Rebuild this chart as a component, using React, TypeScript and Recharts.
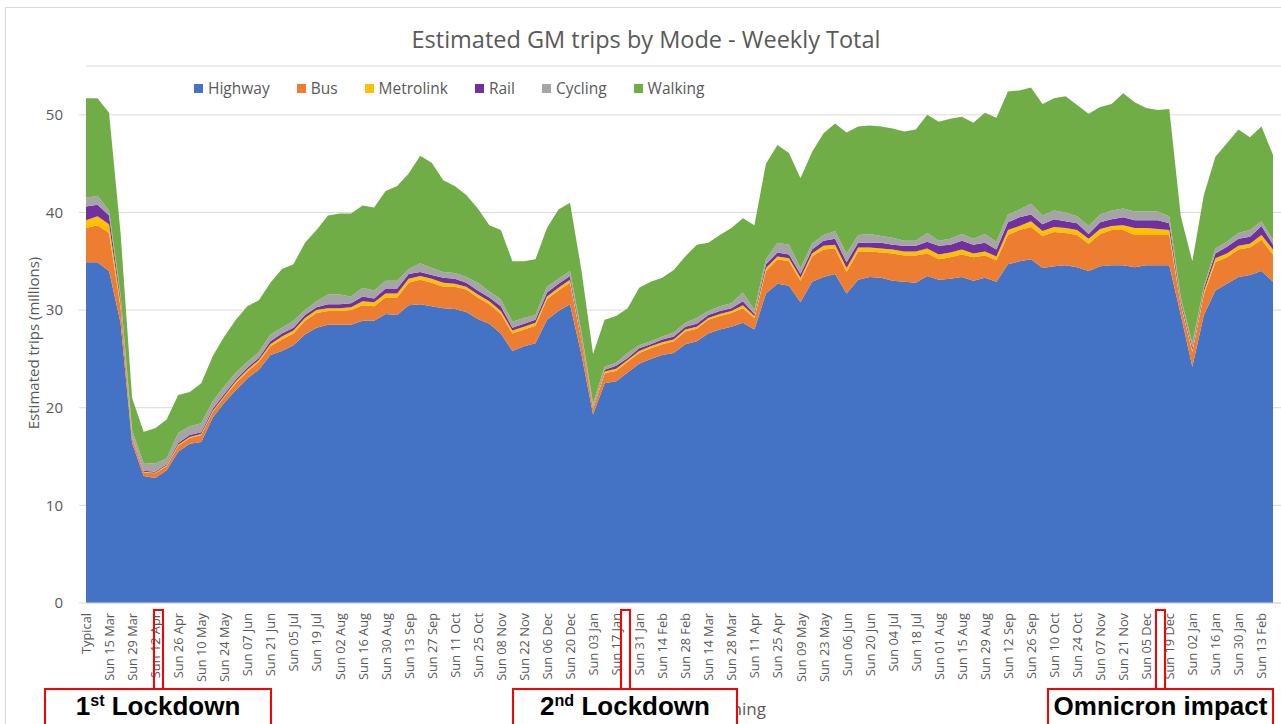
import { AreaChart, Area, XAxis, YAxis, CartesianGrid } from "recharts";

// weekly categories (labels shown on every other week)
const weeks = [
  "Typical", "Sun 08 Mar", "Sun 15 Mar", "Sun 22 Mar", "Sun 29 Mar", "Sun 05 Apr", "Sun 12 Apr", "Sun 19 Apr",
  "Sun 26 Apr", "Sun 03 May", "Sun 10 May", "Sun 17 May", "Sun 24 May", "Sun 31 May", "Sun 07 Jun", "Sun 14 Jun",
  "Sun 21 Jun", "Sun 28 Jun", "Sun 05 Jul", "Sun 12 Jul", "Sun 19 Jul", "Sun 26 Jul", "Sun 02 Aug", "Sun 09 Aug",
  "Sun 16 Aug", "Sun 23 Aug", "Sun 30 Aug", "Sun 06 Sep", "Sun 13 Sep", "Sun 20 Sep", "Sun 27 Sep", "Sun 04 Oct",
  "Sun 11 Oct", "Sun 18 Oct", "Sun 25 Oct", "Sun 01 Nov", "Sun 08 Nov", "Sun 15 Nov", "Sun 22 Nov", "Sun 29 Nov",
  "Sun 06 Dec", "Sun 13 Dec", "Sun 20 Dec", "Sun 27 Dec", "Sun 03 Jan", "Sun 10 Jan", "Sun 17 Jan", "Sun 24 Jan",
  "Sun 31 Jan", "Sun 07 Feb", "Sun 14 Feb", "Sun 21 Feb", "Sun 28 Feb", "Sun 07 Mar", "Sun 14 Mar", "Sun 21 Mar",
  "Sun 28 Mar", "Sun 04 Apr", "Sun 11 Apr", "Sun 18 Apr", "Sun 25 Apr", "Sun 02 May", "Sun 09 May", "Sun 16 May",
  "Sun 23 May", "Sun 30 May", "Sun 06 Jun", "Sun 13 Jun", "Sun 20 Jun", "Sun 27 Jun", "Sun 04 Jul", "Sun 11 Jul",
  "Sun 18 Jul", "Sun 25 Jul", "Sun 01 Aug", "Sun 08 Aug", "Sun 15 Aug", "Sun 22 Aug", "Sun 29 Aug", "Sun 05 Sep",
  "Sun 12 Sep", "Sun 19 Sep", "Sun 26 Sep", "Sun 03 Oct", "Sun 10 Oct", "Sun 17 Oct", "Sun 24 Oct", "Sun 31 Oct",
  "Sun 07 Nov", "Sun 14 Nov", "Sun 21 Nov", "Sun 28 Nov", "Sun 05 Dec", "Sun 12 Dec", "Sun 19 Dec", "Sun 26 Dec",
  "Sun 02 Jan", "Sun 09 Jan", "Sun 16 Jan", "Sun 23 Jan", "Sun 30 Jan", "Sun 06 Feb", "Sun 13 Feb", "Sun 20 Feb",
];

// millions of trips per week
const highway = [
  34.9, 34.9, 34.0, 28.7, 16.4, 13.0, 12.8, 13.6, 15.5, 16.3, 16.5, 19.0, 20.5, 21.8, 23.0, 23.9,
  25.4, 25.8, 26.4, 27.5, 28.2, 28.5, 28.5, 28.5, 28.9, 28.9, 29.6, 29.5, 30.5, 30.6, 30.4, 30.2,
  30.1, 29.8, 29.1, 28.6, 27.6, 25.8, 26.3, 26.6, 29.0, 29.9, 30.6, 25.4, 19.3, 22.5, 22.7, 23.6,
  24.5, 25.0, 25.4, 25.6, 26.5, 26.8, 27.6, 28.0, 28.3, 28.7, 28.0, 31.7, 32.7, 32.5, 30.8, 32.9,
  33.4, 33.7, 31.7, 33.1, 33.4, 33.3, 33.0, 32.9, 32.8, 33.5, 33.1, 33.2, 33.4, 33.0, 33.3, 32.9,
  34.7, 35.0, 35.2, 34.3, 34.5, 34.6, 34.4, 34.0, 34.5, 34.6, 34.6, 34.4, 34.6, 34.6, 34.6, 29.5,
  24.2, 29.5, 32.0, 32.7, 33.4, 33.6, 34.0, 32.9,
];
const bus = [
  3.5, 3.8, 3.9, 1.6, 0.5, 0.4, 0.5, 0.4, 0.6, 0.6, 0.7, 0.6, 0.6, 0.7, 0.7, 0.8,
  0.9, 1.2, 1.2, 1.4, 1.5, 1.4, 1.4, 1.5, 1.6, 1.5, 1.7, 1.8, 2.3, 2.5, 2.4, 2.2,
  2.3, 2.3, 2.2, 2.0, 2.0, 1.8, 1.7, 1.8, 2.1, 2.1, 2.2, 1.4, 0.6, 1.0, 1.1, 1.1,
  1.1, 1.1, 1.1, 1.2, 1.3, 1.3, 1.4, 1.4, 1.4, 1.5, 1.2, 2.3, 2.5, 2.5, 2.2, 2.6,
  2.8, 2.6, 2.2, 2.9, 2.6, 2.6, 2.8, 2.7, 2.8, 2.3, 2.1, 2.2, 2.3, 2.4, 2.3, 2.2,
  3.0, 3.2, 3.3, 3.3, 3.5, 3.3, 3.3, 2.8, 3.3, 3.6, 3.6, 3.3, 3.1, 3.1, 3.1, 1.0,
  1.5, 2.1, 2.9, 2.7, 2.8, 2.8, 3.2, 2.8,
];
const metrolink = [
  0.8, 0.9, 0.9, 0.4, 0.1, 0.05, 0.05, 0.1, 0.1, 0.1, 0.1, 0.1, 0.1, 0.2, 0.2, 0.2,
  0.2, 0.3, 0.3, 0.3, 0.3, 0.3, 0.3, 0.3, 0.4, 0.4, 0.4, 0.4, 0.4, 0.4, 0.4, 0.4,
  0.3, 0.3, 0.3, 0.3, 0.3, 0.3, 0.3, 0.3, 0.3, 0.3, 0.3, 0.2, 0.1, 0.2, 0.2, 0.2,
  0.2, 0.2, 0.2, 0.2, 0.2, 0.2, 0.2, 0.2, 0.2, 0.3, 0.2, 0.3, 0.3, 0.3, 0.3, 0.3,
  0.4, 0.4, 0.4, 0.4, 0.4, 0.4, 0.4, 0.4, 0.4, 0.5, 0.5, 0.5, 0.5, 0.4, 0.4, 0.4,
  0.5, 0.4, 0.6, 0.5, 0.5, 0.5, 0.5, 0.5, 0.5, 0.4, 0.5, 0.7, 0.7, 0.6, 0.5, 0.2,
  0.2, 0.3, 0.4, 0.4, 0.4, 0.4, 0.5, 0.5,
];
const rail = [
  1.4, 1.2, 0.9, 0.5, 0.1, 0.1, 0.1, 0.1, 0.2, 0.2, 0.2, 0.2, 0.2, 0.2, 0.2, 0.2,
  0.3, 0.3, 0.3, 0.3, 0.3, 0.4, 0.4, 0.4, 0.5, 0.4, 0.5, 0.5, 0.5, 0.4, 0.4, 0.5,
  0.5, 0.4, 0.4, 0.4, 0.5, 0.3, 0.3, 0.3, 0.4, 0.4, 0.4, 0.3, 0.1, 0.2, 0.3, 0.2,
  0.3, 0.2, 0.3, 0.3, 0.3, 0.3, 0.3, 0.3, 0.3, 0.4, 0.2, 0.4, 0.4, 0.4, 0.4, 0.4,
  0.5, 0.6, 0.6, 0.5, 0.5, 0.6, 0.5, 0.6, 0.6, 0.7, 0.9, 0.8, 0.9, 0.9, 0.9, 0.7,
  0.8, 0.9, 0.7, 0.7, 0.8, 0.7, 0.7, 0.5, 0.7, 0.7, 0.8, 0.8, 0.8, 0.9, 0.7, 0.3,
  0.3, 0.3, 0.5, 0.7, 0.7, 0.7, 0.9, 0.5,
];
const cycling = [
  0.9, 0.9, 0.5, 0.4, 0.6, 0.8, 0.85, 0.6, 1.0, 0.9, 0.9, 0.8, 0.8, 0.7, 0.6, 0.6,
  0.7, 0.6, 0.7, 0.5, 0.6, 1.0, 1.0, 0.7, 0.9, 0.8, 0.8, 0.8, 0.5, 0.9, 0.7, 0.6,
  0.6, 0.6, 0.8, 0.6, 0.7, 0.6, 0.6, 0.5, 0.6, 0.5, 0.5, 0.4, 0.3, 0.3, 0.3, 0.5,
  0.3, 0.3, 0.3, 0.4, 0.4, 0.6, 0.4, 0.5, 0.5, 0.9, 0.4, 0.5, 1.0, 1.0, 0.6, 0.6,
  0.6, 0.8, 0.9, 0.8, 0.9, 0.7, 0.7, 0.5, 0.5, 0.9, 0.5, 0.6, 0.7, 0.6, 0.9, 0.8,
  0.8, 0.8, 1.1, 0.9, 0.9, 0.9, 0.7, 0.8, 0.8, 0.9, 0.9, 0.9, 0.9, 0.9, 0.7, 0.3,
  0.4, 0.2, 0.5, 0.5, 0.6, 0.7, 0.5, 0.5,
];
const walking = [
  10.2, 10.0, 10.0, 6.3, 3.3, 3.2, 3.6, 4.0, 3.9, 3.5, 4.1, 4.6, 5.1, 5.4, 5.7, 5.3,
  5.3, 6.0, 5.8, 6.9, 7.3, 8.1, 8.3, 8.5, 8.4, 8.5, 9.2, 9.7, 9.8, 11.0, 10.8, 9.4,
  8.9, 8.4, 7.6, 6.8, 7.1, 6.2, 5.8, 5.7, 6.0, 7.1, 7.0, 6.3, 5.1, 4.8, 4.8, 4.6,
  5.9, 6.1, 6.0, 6.4, 6.8, 7.5, 7.0, 7.3, 7.7, 7.6, 8.7, 9.8, 10.0, 9.4, 9.2, 9.4,
  10.4, 11.0, 12.4, 11.1, 11.1, 11.2, 11.2, 11.2, 11.4, 12.1, 12.2, 12.3, 12.0, 11.9, 12.4, 12.7,
  12.6, 12.2, 11.9, 11.4, 11.5, 11.9, 11.4, 11.5, 11.0, 10.9, 11.8, 11.2, 10.6, 10.4, 11.0, 8.3,
  8.4, 9.4, 9.4, 10.1, 10.6, 9.5, 9.7, 8.7,
];

const yTicks = [0, 10, 20, 30, 40, 50];

const series = [
  { key: "Highway", color: "#4472C4" },
  { key: "Bus", color: "#ED7D31" },
  { key: "Metrolink", color: "#FFC000" },
  { key: "Rail", color: "#7030A0" },
  { key: "Cycling", color: "#A5A5A5" },
  { key: "Walking", color: "#70AD47" },
];

const data = weeks.map((week, i) => ({
  week,
  Highway: highway[i],
  Bus: bus[i],
  Metrolink: metrolink[i],
  Rail: rail[i],
  Cycling: cycling[i],
  Walking: walking[i],
}));

const FONT = "'Open Sans', sans-serif";
const GREY = "#595959";

function WeekTick({ x, y, payload }: any) {
  return (
    <text
      x={x}
      y={y}
      transform={`rotate(-90 ${x} ${y})`}
      textAnchor="end"
      dominantBaseline="central"
      fontSize={12.8}
      fontFamily={FONT}
      fill={GREY}
    >
      {payload.value}
    </text>
  );
}

const redBox = {
  position: "absolute" as const,
  border: "2px solid #ff0000",
  boxSizing: "border-box" as const,
};

function Callout({ left, width, children }: any) {
  return (
    <div
      style={{
        ...redBox,
        left,
        top: 688,
        width,
        height: 50,
        background: "#fff",
        textAlign: "center",
        fontFamily: "'Liberation Sans', Arial, sans-serif",
        fontWeight: 700,
        fontSize: 26,
        lineHeight: "30px",
        paddingTop: 1,
        color: "#000",
        whiteSpace: "nowrap",
      }}
    >
      {children}
    </div>
  );
}

const sup = { fontSize: "0.62em", verticalAlign: "0.55em", lineHeight: 0 };

export default function App() {
  return (
    <div
      style={{
        position: "absolute",
        left: 0,
        top: 0,
        width: 1281,
        height: 724,
        overflow: "hidden",
        background: "#fff",
      }}
    >
      <div
        style={{
          position: "absolute",
          left: 5,
          top: 7,
          width: 1300,
          height: 800,
          border: "1px solid #d9d9d9",
        }}
      />
      <div
        style={{
          position: "absolute",
          left: 146,
          top: 23,
          width: 1000,
          textAlign: "center",
          fontFamily: FONT,
          fontSize: 23.5,
          color: GREY,
        }}
      >
        Estimated GM trips by Mode - Weekly Total
      </div>
      <div
        style={{
          position: "absolute",
          left: 194,
          top: 77,
          display: "flex",
          alignItems: "center",
          fontFamily: FONT,
          fontSize: 15.5,
          color: GREY,
          zIndex: 2,
        }}
      >
        {series.map((s) => (
          <div key={s.key} style={{ display: "flex", alignItems: "center", marginRight: 27 }}>
            <span style={{ width: 9, height: 9, background: s.color, marginRight: 5 }} />
            {s.key}
          </div>
        ))}
      </div>
      <div
        style={{
          position: "absolute",
          left: 33,
          top: 343,
          transform: "translate(-50%, -50%) rotate(-90deg)",
          whiteSpace: "nowrap",
          fontFamily: FONT,
          fontSize: 15,
          color: GREY,
        }}
      >
        Estimated trips (millions)
      </div>
      <AreaChart
        width={1281}
        height={724}
        data={data}
        margin={{ top: 66, right: 0, left: 30, bottom: 21 }}
      >
        <CartesianGrid vertical={false} stroke="#d9d9d9" />
        <XAxis
          dataKey="week"
          interval={1}
          tick={<WeekTick />}
          tickLine={false}
          axisLine={{ stroke: "#d9d9d9" }}
          height={100}
          tickMargin={4}
          padding={{ left: 0, right: 8 }}
        />
        <YAxis
          domain={[0, 55]}
          ticks={yTicks}
          width={56}
          axisLine={false}
          tickLine={{ stroke: "#d9d9d9" }}
          tickSize={7}
          tickMargin={16}
          tick={{ fontSize: 15, fontFamily: FONT, fill: GREY }}
        />
        {series.map((s) => (
          <Area
            key={s.key}
            type="linear"
            dataKey={s.key}
            stackId="modes"
            stroke="none"
            fill={s.color}
            fillOpacity={1}
            isAnimationActive={false}
          />
        ))}
      </AreaChart>
      <div
        style={{
          position: "absolute",
          right: 515,
          top: 697,
          fontFamily: FONT,
          fontSize: 17,
          color: GREY,
        }}
      >
        Week Beginning
      </div>
      <div style={{ ...redBox, left: 153, top: 609, width: 11, height: 81 }} />
      <div style={{ ...redBox, left: 620, top: 609, width: 11, height: 81 }} />
      <div style={{ ...redBox, left: 1155, top: 609, width: 11, height: 81 }} />
      <Callout left={44} width={228}>
        1<sup style={sup}>st</sup> Lockdown
      </Callout>
      <Callout left={512} width={226}>
        2<sup style={sup}>nd</sup> Lockdown
      </Callout>
      <Callout left={1047} width={227}>
        Omnicron impact
      </Callout>
    </div>
  );
}
